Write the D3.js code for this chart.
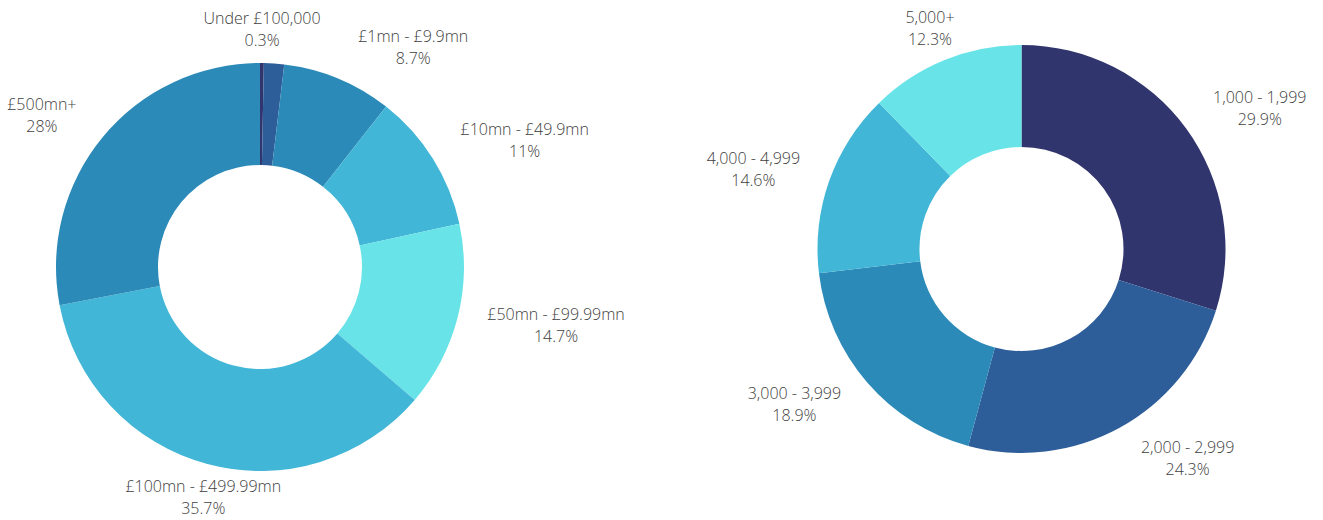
<!DOCTYPE html>
<html>
<head>
<meta charset="utf-8">
<script src="https://cdn.jsdelivr.net/npm/d3@7"></script>
<style>
  body { margin: 0; background: #ffffff; }
  svg text { font-family: "Open Sans", sans-serif; font-size: 16px; font-weight: 300; fill: #404040; }
</style>
</head>
<body>
<svg id="chart" width="1323" height="520"></svg>
<script>
// Revenue bands (left donut)
const revenueBands = ["Under £100,000", "£100,000 - £999,999", "£1mn - £9.9mn", "£10mn - £49.9mn",
                      "£50mn - £99.99mn", "£100mn - £499.99mn", "£500mn+"];
const revenueShares = [0.3, 1.6, 8.7, 11, 14.7, 35.7, 28];
const revenueLabelled = [true, false, true, true, true, true, true];
const revenueColors = ["#31356e", "#2e5e99", "#2c8ab8", "#41b6d6", "#68e4e8", "#41b6d6", "#2c8ab8"];

// Employee bands (right donut)
const staffBands = ["1,000 - 1,999", "2,000 - 2,999", "3,000 - 3,999", "4,000 - 4,999", "5,000+"];
const staffShares = [29.9, 24.3, 18.9, 14.6, 12.3];
const staffLabelled = [true, true, true, true, true];
const staffColors = ["#31356e", "#2e5e99", "#2c8ab8", "#41b6d6", "#68e4e8"];

const svg = d3.select("#chart");
const outerR = 204, innerR = 102, labelR = 220, gap = 14, lineGap = 22;

function donut(cx, cy, bands, shares, labelled, colors) {
  const data = bands.map((b, i) => ({ band: b, v: shares[i], show: labelled[i], color: colors[i] }));
  const pie = d3.pie().sort(null).value(d => d.v);
  const arcs = pie(data);
  const arc = d3.arc().innerRadius(innerR).outerRadius(outerR);
  const labelArc = d3.arc().innerRadius(labelR).outerRadius(labelR);

  const g = svg.append("g").attr("transform", `translate(${cx},${cy})`);
  g.selectAll("path.slice").data(arcs).join("path")
    .attr("class", "slice")
    .attr("d", arc)
    .attr("fill", d => d.data.color);

  // two-line labels outside the ring; side labels hang off the anchor point
  const placed = [];
  arcs.filter(d => d.data.show).forEach(d => {
    const mid = (d.startAngle + d.endAngle) / 2;
    const s = Math.sin(mid), c = Math.cos(mid);
    const [ax, ay] = labelArc.centroid(d);
    const ty = ay - c * (lineGap * 0.82);

    const t = g.append("text").attr("text-anchor", "middle");
    t.append("tspan").attr("x", 0).attr("y", -lineGap / 2).attr("dy", "0.35em").text(d.data.band);
    t.append("tspan").attr("x", 0).attr("y", lineGap / 2).attr("dy", "0.35em").text(`${d.data.v}%`);
    const w = t.node().getBBox().width, h = lineGap * 2;

    const f = Math.max(0, Math.min(1, (Math.abs(s) - 0.35) / 0.12));
    const boxAt = k => {
      const x = ax + Math.sign(s) * k * (w / 2 + gap);
      return { x, y: ty, x0: x - w / 2, x1: x + w / 2, y0: ty - h / 2, y1: ty + h / 2 };
    };
    let box = boxAt(f);
    const hits = b => placed.some(p => b.x0 < p.x1 && b.x1 > p.x0 && b.y0 < p.y1 && b.y1 > p.y0);
    if (hits(box)) box = boxAt(1);
    placed.push(box);
    t.attr("transform", `translate(${box.x},${box.y})`);
  });
}

donut(260, 267, revenueBands, revenueShares, revenueLabelled, revenueColors);
donut(1021.5, 249, staffBands, staffShares, staffLabelled, staffColors);
</script>
</body>
</html>
